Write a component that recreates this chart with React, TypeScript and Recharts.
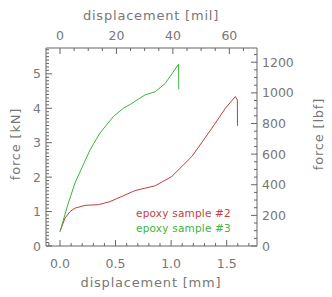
import { LineChart, Line, XAxis, YAxis } from 'recharts'

// sample #2 (red)
const redMm = [0, 0.045, 0.09, 0.135, 0.225, 0.345, 0.45, 0.556, 0.676, 0.857, 1.007, 1.097, 1.187, 1.367, 1.488, 1.578, 1.596, 1.598]
const redKn = [0.42, 0.81, 1.0, 1.1, 1.18, 1.2, 1.29, 1.44, 1.61, 1.75, 2.02, 2.31, 2.6, 3.42, 4.0, 4.34, 4.24, 3.49]
// sample #3 (green)
const greenMm = [0, 0.075, 0.135, 0.27, 0.36, 0.48, 0.571, 0.646, 0.766, 0.857, 0.947, 1.067, 1.069]
const greenKn = [0.42, 1.25, 1.83, 2.79, 3.28, 3.76, 4.0, 4.14, 4.39, 4.48, 4.72, 5.28, 4.55]

const mmTicks = [0, 0.5, 1.0, 1.5]
const milTicks = [0, 20, 40, 60]
const knTicks = [0, 1, 2, 3, 4, 5]
const lbfTicks = [0, 200, 400, 600, 800, 1000, 1200]
const legendNames = ['epoxy sample #2', 'epoxy sample #3']

const MIL_PER_MM = 1 / 0.0254
const LBF_PER_KN = 224.81

const RED = '#c23f3f'
const GREEN = '#3db53d'
const AXIS = '#666'
const TXT = '#777'
const FONT = 'DejaVu Sans'

const steps = (a: number, b: number, s: number, skip: number[]) => {
  const out: number[] = []
  for (let v = a; v <= b + 1e-9; v += s) {
    const r = Math.round(v * 1000) / 1000
    if (!skip.some((m) => Math.abs(m - r) < 1e-6)) out.push(r)
  }
  return out
}

const mmMinor = steps(-0.1, 1.7, 0.1, mmTicks)
const milMinor = steps(5, 65, 5, milTicks)
const knMinor = steps(0.1, 5.7, 0.1, knTicks)
const lbfMinor = steps(50, 1250, 50, lbfTicks)

const red = redMm.map((x, i) => ({ mm: x, kN: redKn[i] }))
const green = greenMm.map((x, i) => ({ mm: x, kN: greenKn[i] }))
// same red curve in imperial units, only to give the top/right axes a series
const redImperial = redMm.map((x, i) => ({ mil: x * MIL_PER_MM, lbf: redKn[i] * LBF_PER_KN }))

const isMajor = (list: number[], v: number) => list.some((m) => Math.abs(m - v) < 1e-6)

function BottomTick(props: any) {
  const { x, y, payload } = props
  const major = isMajor(mmTicks, payload.value)
  return (
    <g>
      <line x1={x} y1={y} x2={x} y2={y - (major ? 6 : 3)} stroke={AXIS} />
      {major && (
        <text x={x} y={y + 17} textAnchor="middle" dominantBaseline="central" fill={TXT} fontSize={12.5} fontFamily={FONT}>
          {payload.value.toFixed(1)}
        </text>
      )}
    </g>
  )
}

function TopTick(props: any) {
  const { x, y, payload } = props
  const major = isMajor(milTicks, payload.value)
  return (
    <g>
      <line x1={x} y1={y} x2={x} y2={y + (major ? 6 : 3)} stroke={AXIS} />
      {major && (
        <text x={x} y={y - 13} textAnchor="middle" dominantBaseline="central" fill={TXT} fontSize={12.5} fontFamily={FONT}>
          {payload.value}
        </text>
      )}
    </g>
  )
}

function LeftTick(props: any) {
  const { x, y, payload } = props
  const major = isMajor(knTicks, payload.value)
  return (
    <g>
      <line x1={x} y1={y} x2={x + (major ? 6 : 3)} y2={y} stroke={AXIS} />
      {major && (
        <text x={x - 5} y={y} textAnchor="end" dominantBaseline="central" fill={TXT} fontSize={12.5} fontFamily={FONT}>
          {payload.value}
        </text>
      )}
    </g>
  )
}

function RightTick(props: any) {
  const { x, y, payload } = props
  const major = isMajor(lbfTicks, payload.value)
  return (
    <g>
      <line x1={x} y1={y} x2={x - (major ? 6 : 3)} y2={y} stroke={AXIS} />
      {major && (
        <text x={x + 5} y={y} textAnchor="start" dominantBaseline="central" fill={TXT} fontSize={12.5} fontFamily={FONT}>
          {payload.value}
        </text>
      )}
    </g>
  )
}

const title = { fill: TXT, fontSize: 13, fontFamily: FONT, letterSpacing: 0.8, textAnchor: 'middle' as const, dominantBaseline: 'central' as const }

export default function App() {
  return (
    <div style={{ position: 'absolute', left: 0, top: 0, width: 332, height: 297 }}>
      <LineChart width={332} height={297} margin={{ top: 0, right: 0, bottom: 0, left: 0 }}>
        <XAxis xAxisId="mm" dataKey="mm" type="number" orientation="bottom" height={51} domain={[-0.126, 1.773]}
          allowDataOverflow ticks={[...mmTicks, ...mmMinor]} interval={0} tick={<BottomTick />} tickLine={false}
          tickSize={0} tickMargin={0} stroke={AXIS} />
        <XAxis xAxisId="mil" dataKey="mil" type="number" orientation="top" height={48} domain={[-4.96, 69.8]}
          allowDataOverflow ticks={[...milTicks, ...milMinor]} interval={0} tick={<TopTick />} tickLine={false}
          tickSize={0} tickMargin={0} stroke={AXIS} />
        <YAxis yAxisId="kN" type="number" orientation="left" width={46} domain={[0, 5.75]}
          allowDataOverflow ticks={[...knTicks, ...knMinor]} interval={0} tick={<LeftTick />} tickLine={false}
          tickSize={0} tickMargin={0} stroke={AXIS} />
        <YAxis yAxisId="lbf" type="number" orientation="right" width={75} domain={[0, 1293]}
          allowDataOverflow ticks={[...lbfTicks, ...lbfMinor]} interval={0} tick={<RightTick />} tickLine={false}
          tickSize={0} tickMargin={0} stroke={AXIS} />
        <Line data={redImperial} xAxisId="mil" yAxisId="lbf" dataKey="lbf" stroke="none" dot={false}
          type="linear" isAnimationActive={false} legendType="none" />
        <Line data={red} xAxisId="mm" yAxisId="kN" dataKey="kN" stroke={RED} strokeWidth={1} dot={false}
          type="linear" isAnimationActive={false} />
        <Line data={green} xAxisId="mm" yAxisId="kN" dataKey="kN" stroke={GREEN} strokeWidth={1} dot={false}
          type="linear" isAnimationActive={false} />
      </LineChart>
      <svg width={332} height={297} style={{ position: 'absolute', left: 0, top: 0, pointerEvents: 'none' }}>
        <text x={151} y={15} {...title}>displacement [mil]</text>
        <text x={151} y={282} {...title}>displacement [mm]</text>
        <text x={15} y={144} transform="rotate(-90 15 144)" {...title}>force [kN]</text>
        <text x={318} y={134} transform="rotate(-90 318 134)" {...title}>force [lbf]</text>
        <text x={231} y={213} textAnchor="end" dominantBaseline="central" fill={RED} fontSize={10.5} fontFamily={FONT} letterSpacing={0.2}>
          {legendNames[0]}
        </text>
        <text x={231} y={228} textAnchor="end" dominantBaseline="central" fill={GREEN} fontSize={10.5} fontFamily={FONT} letterSpacing={0.2}>
          {legendNames[1]}
        </text>
      </svg>
    </div>
  )
}
